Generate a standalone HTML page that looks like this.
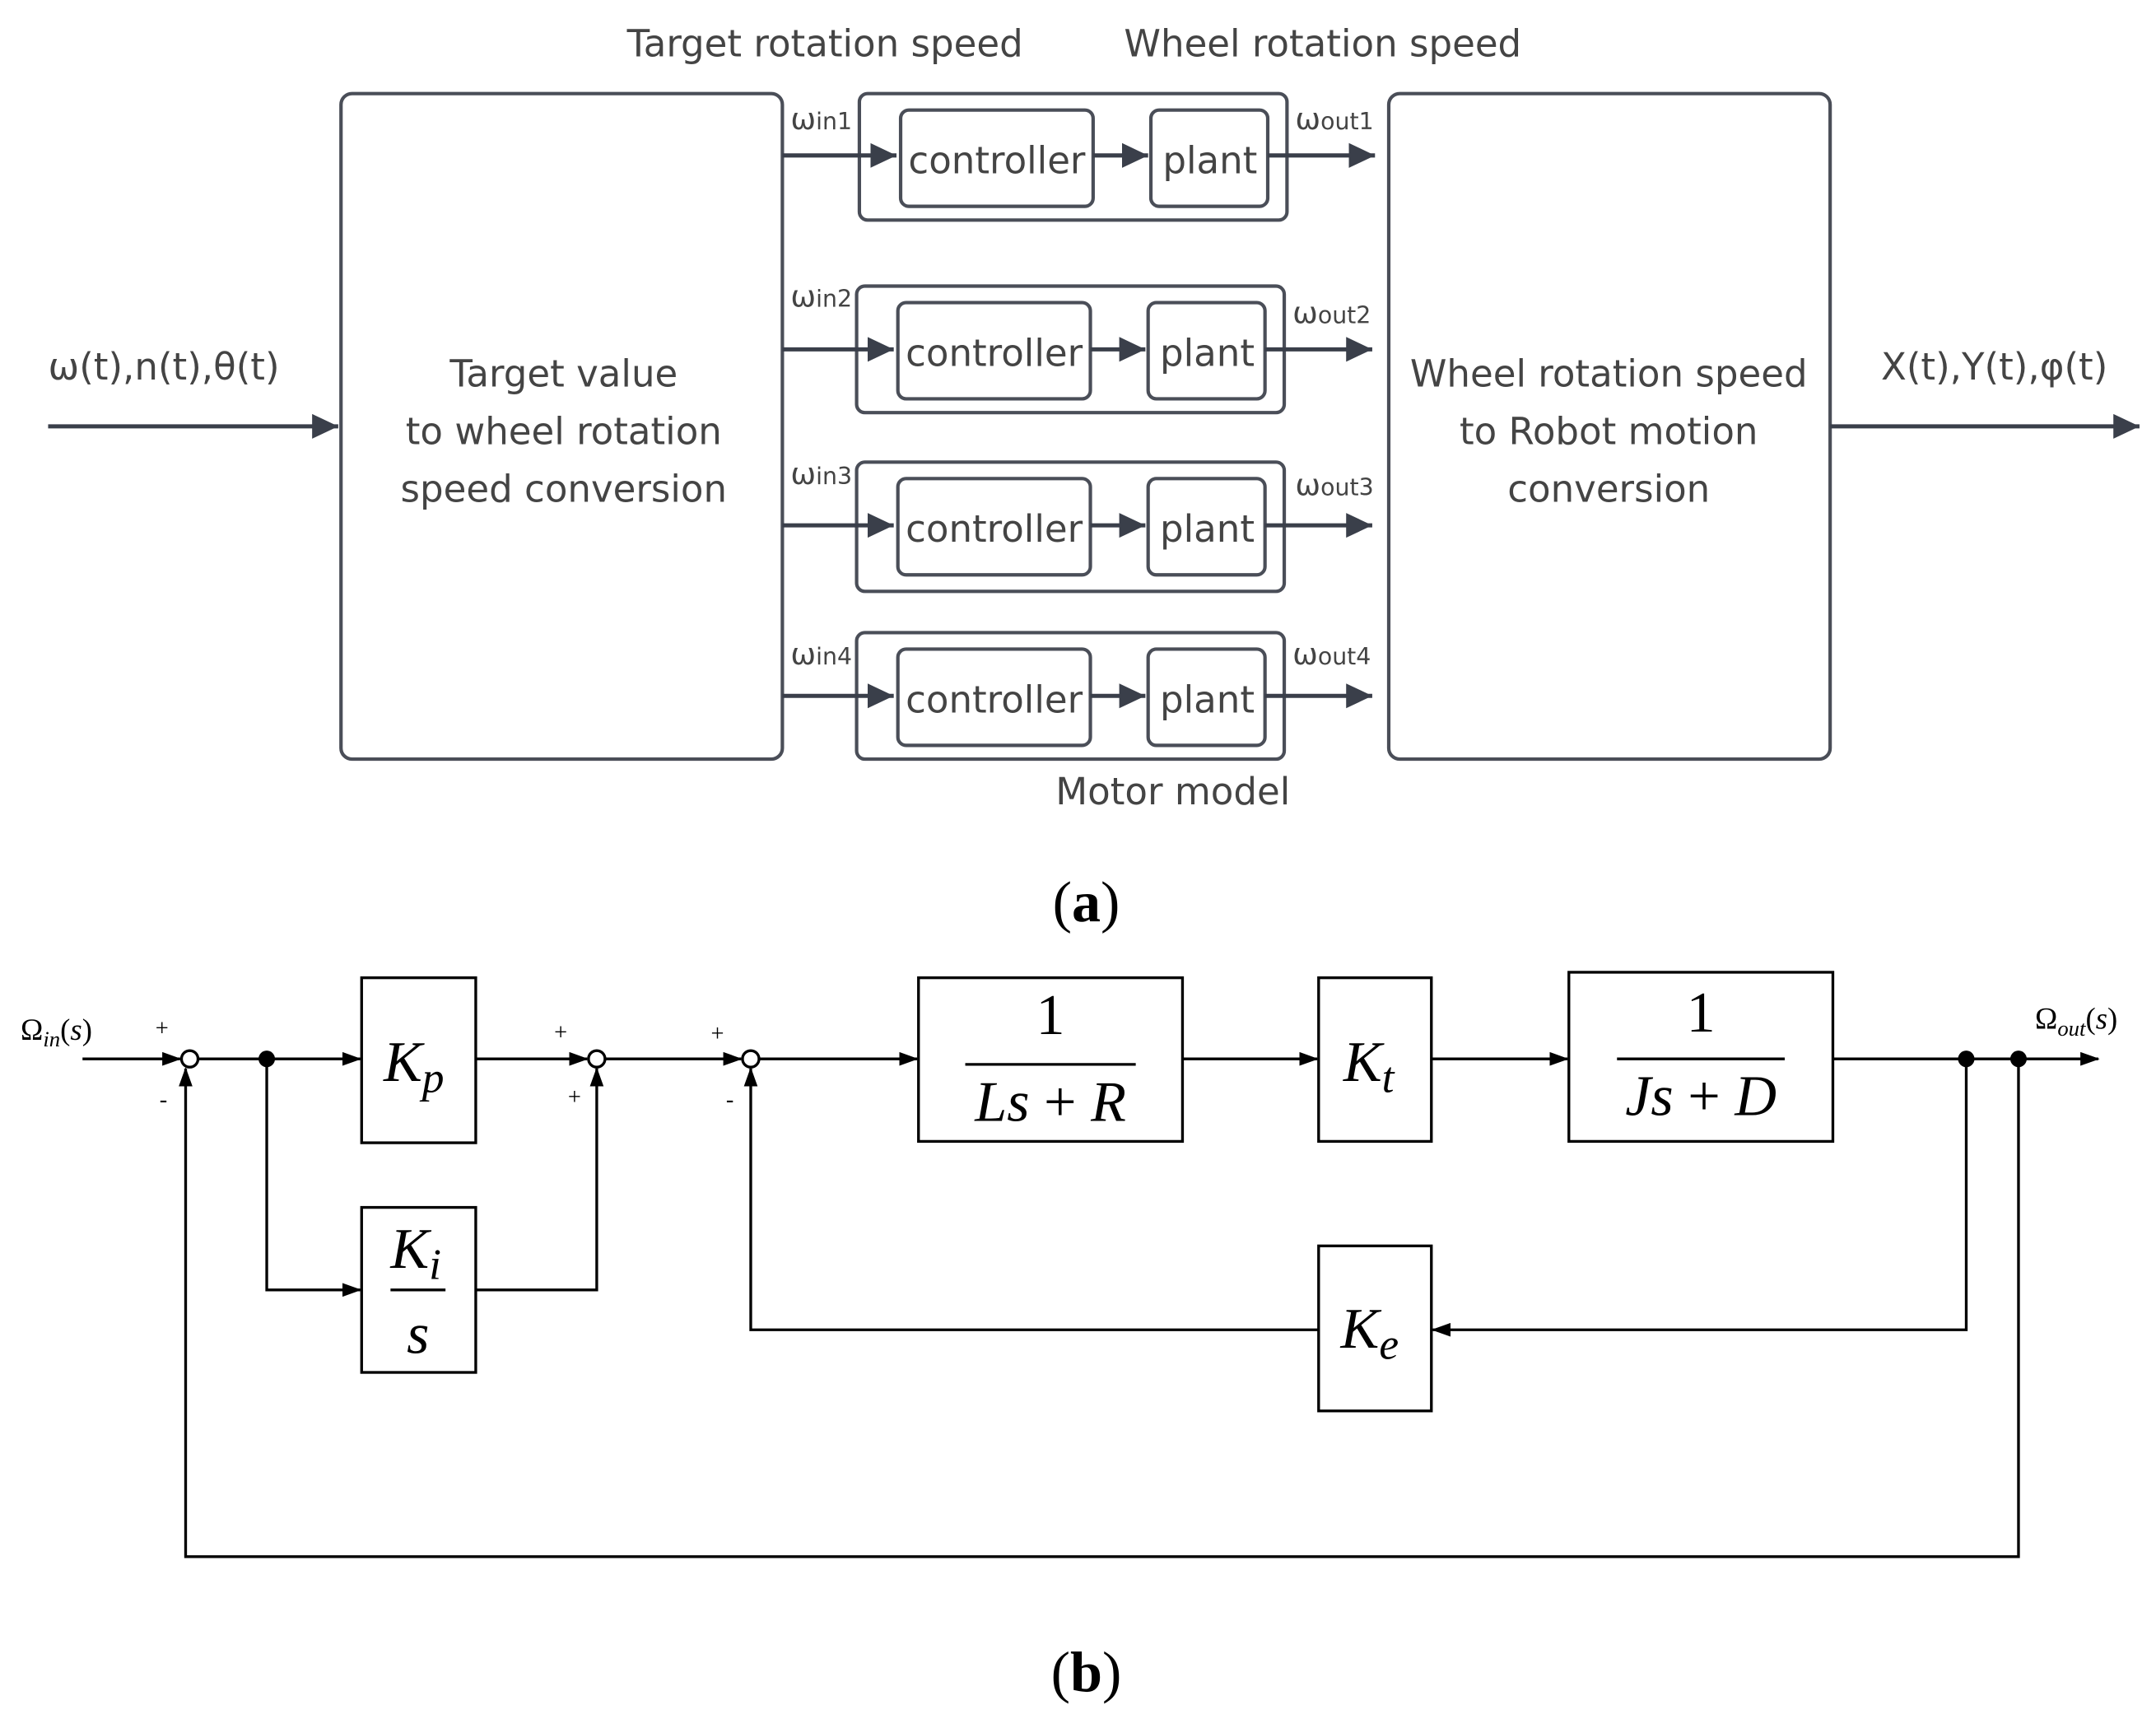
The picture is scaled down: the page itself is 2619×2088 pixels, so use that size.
<!DOCTYPE html>
<html><head><meta charset="utf-8"><style>
html,body{margin:0;padding:0;background:#fff;}
svg{display:block;}
.s{font-family:"DejaVu Sans","Liberation Sans",sans-serif;fill:#444;}
.m{font-family:"Liberation Serif",serif;font-style:italic;fill:#000;}
</style></head><body>
<svg width="2619" height="2088" viewBox="0 0 1568 1250" xmlns="http://www.w3.org/2000/svg">
<defs>
<marker id="ab" markerWidth="14" markerHeight="10" refX="13" refY="5" orient="auto" markerUnits="userSpaceOnUse"><path d="M0,0 L14,5 L0,10 z" fill="#000"/></marker>
<marker id="ag2" markerWidth="20" markerHeight="20" refX="19" refY="10" orient="auto" markerUnits="userSpaceOnUse"><path d="M0,1 L19,10 L0,19 z" fill="#3a3f4a"/></marker>
</defs>
<g fill="none" stroke="#4a4e58" stroke-width="2.5">
<rect x="248" y="68" width="321" height="484" rx="8"/>
<rect x="1010" y="68" width="321" height="484" rx="8"/>
<rect x="625" y="68" width="311" height="92" rx="6"/>
<rect x="655" y="80" width="140" height="70" rx="6"/>
<rect x="837" y="80" width="85" height="70" rx="6"/>
<rect x="623" y="208" width="311" height="92" rx="6"/>
<rect x="653" y="220" width="140" height="70" rx="6"/>
<rect x="835" y="220" width="85" height="70" rx="6"/>
<rect x="623" y="336" width="311" height="94" rx="6"/>
<rect x="653" y="348" width="140" height="70" rx="6"/>
<rect x="835" y="348" width="85" height="70" rx="6"/>
<rect x="623" y="460" width="311" height="92" rx="6"/>
<rect x="653" y="472" width="140" height="70" rx="6"/>
<rect x="835" y="472" width="85" height="70" rx="6"/>
</g>
<g stroke="#3a3f4a" stroke-width="3" fill="none">
<line x1="569" y1="113" x2="652" y2="113" marker-end="url(#ag2)"/>
<line x1="795" y1="113" x2="835" y2="113" marker-end="url(#ag2)"/>
<line x1="922" y1="113" x2="1000" y2="113" marker-end="url(#ag2)"/>
<line x1="569" y1="254" x2="650" y2="254" marker-end="url(#ag2)"/>
<line x1="793" y1="254" x2="833" y2="254" marker-end="url(#ag2)"/>
<line x1="920" y1="254" x2="998" y2="254" marker-end="url(#ag2)"/>
<line x1="569" y1="382" x2="650" y2="382" marker-end="url(#ag2)"/>
<line x1="793" y1="382" x2="833" y2="382" marker-end="url(#ag2)"/>
<line x1="920" y1="382" x2="998" y2="382" marker-end="url(#ag2)"/>
<line x1="569" y1="506" x2="650" y2="506" marker-end="url(#ag2)"/>
<line x1="793" y1="506" x2="833" y2="506" marker-end="url(#ag2)"/>
<line x1="920" y1="506" x2="998" y2="506" marker-end="url(#ag2)"/>
<line x1="35" y1="310" x2="246" y2="310" marker-end="url(#ag2)"/>
<line x1="1331" y1="310" x2="1556" y2="310" marker-end="url(#ag2)"/>
</g>
<g class="s" font-size="27">
<text x="600" y="41" text-anchor="middle">Target rotation speed</text>
<text x="962" y="41" text-anchor="middle">Wheel rotation speed</text>
<text x="853" y="585" text-anchor="middle">Motor model</text>
<text x="35" y="276">ω(t),n(t),θ(t)</text>
<text x="1368" y="276">X(t),Y(t),φ(t)</text>
<text x="410" y="281" text-anchor="middle">Target value</text>
<text x="410" y="323" text-anchor="middle">to wheel rotation</text>
<text x="410" y="365" text-anchor="middle">speed conversion</text>
<text x="1170" y="281" text-anchor="middle">Wheel rotation speed</text>
<text x="1170" y="323" text-anchor="middle">to Robot motion</text>
<text x="1170" y="365" text-anchor="middle">conversion</text>
<text x="725" y="126" text-anchor="middle">controller</text>
<text x="880" y="126" text-anchor="middle">plant</text>
<text x="723" y="266" text-anchor="middle">controller</text>
<text x="878" y="266" text-anchor="middle">plant</text>
<text x="723" y="394" text-anchor="middle">controller</text>
<text x="878" y="394" text-anchor="middle">plant</text>
<text x="723" y="518" text-anchor="middle">controller</text>
<text x="878" y="518" text-anchor="middle">plant</text>
</g>
<g class="s" font-size="22">
<text x="575" y="94">ω<tspan font-size="17">in1</tspan></text><text x="942" y="94">ω<tspan font-size="17">out1</tspan></text>
<text x="575" y="223">ω<tspan font-size="17">in2</tspan></text><text x="940" y="235">ω<tspan font-size="17">out2</tspan></text>
<text x="575" y="352">ω<tspan font-size="17">in3</tspan></text><text x="942" y="360">ω<tspan font-size="17">out3</tspan></text>
<text x="575" y="483">ω<tspan font-size="17">in4</tspan></text><text x="940" y="483">ω<tspan font-size="17">out4</tspan></text>
</g>
<text x="790" y="670" text-anchor="middle" font-family="Liberation Serif,serif" font-size="42">(<tspan font-weight="bold">a</tspan>)</text>
<text x="790" y="1230" text-anchor="middle" font-family="Liberation Serif,serif" font-size="42">(<tspan font-weight="bold">b</tspan>)</text>
<g fill="none" stroke="#000" stroke-width="2">
<rect x="263" y="711" width="83" height="120"/>
<rect x="263" y="878" width="83" height="120"/>
<rect x="668" y="711" width="192" height="119"/>
<rect x="959" y="711" width="82" height="119"/>
<rect x="1141" y="707" width="192" height="123"/>
<rect x="959" y="906" width="82" height="120"/>
<circle cx="138" cy="770" r="6"/>
<circle cx="434" cy="770" r="6"/>
<circle cx="546" cy="770" r="6"/>
<line x1="60" y1="770" x2="131" y2="770" marker-end="url(#ab)"/>
<line x1="144" y1="770" x2="262" y2="770" marker-end="url(#ab)"/>
<line x1="346" y1="770" x2="427" y2="770" marker-end="url(#ab)"/>
<polyline points="194,770 194,938 262,938" marker-end="url(#ab)"/>
<polyline points="346,938 434,938 434,777" marker-end="url(#ab)"/>
<line x1="440" y1="770" x2="539" y2="770" marker-end="url(#ab)"/>
<line x1="552" y1="770" x2="667" y2="770" marker-end="url(#ab)"/>
<line x1="860" y1="770" x2="958" y2="770" marker-end="url(#ab)"/>
<line x1="1041" y1="770" x2="1140" y2="770" marker-end="url(#ab)"/>
<line x1="1333" y1="770" x2="1526" y2="770" marker-end="url(#ab)"/>
<polyline points="1430,770 1430,967 1042,967" marker-end="url(#ab)"/>
<polyline points="959,967 546,967 546,777" marker-end="url(#ab)"/>
<polyline points="1468,770 1468,1132 135,1132 135,777" marker-end="url(#ab)"/>
<line x1="702" y1="774" x2="826" y2="774"/>
<line x1="1176" y1="770" x2="1298" y2="770"/>
<line x1="284" y1="938" x2="324" y2="938"/>
</g>
<g fill="#000"><circle cx="194" cy="770" r="6"/><circle cx="1430" cy="770" r="6"/><circle cx="1468" cy="770" r="6"/></g>
<g font-family="Liberation Serif,serif" font-size="17" fill="#000">
<text x="113" y="753">+</text><text x="116" y="805">-</text>
<text x="403" y="756">+</text><text x="413" y="803">+</text>
<text x="517" y="757">+</text><text x="528" y="805">-</text>
</g>
<g class="m" font-size="22">
<text x="15" y="756"><tspan font-style="normal">Ω</tspan><tspan font-size="16" dy="5">in</tspan><tspan dy="-5" font-style="normal">(</tspan>s<tspan font-style="normal">)</tspan></text>
<text x="1480" y="748"><tspan font-style="normal">Ω</tspan><tspan font-size="16" dy="5">out</tspan><tspan dy="-5" font-style="normal">(</tspan>s<tspan font-style="normal">)</tspan></text>
</g>
<g class="m" font-size="42">
<text x="279" y="786">K<tspan font-size="32" dy="8">p</tspan></text>
<text x="284" y="922">K<tspan font-size="32" dy="8">i</tspan></text>
<text x="304" y="984" text-anchor="middle">s</text>
<text x="764" y="752" text-anchor="middle" font-style="normal">1</text>
<text x="764" y="815" text-anchor="middle">Ls <tspan font-style="normal">+</tspan> R</text>
<text x="977" y="786">K<tspan font-size="32" dy="8">t</tspan></text>
<text x="1237" y="750" text-anchor="middle" font-style="normal">1</text>
<text x="1237" y="811" text-anchor="middle">Js <tspan font-style="normal">+</tspan> D</text>
<text x="975" y="980">K<tspan font-size="32" dy="8">e</tspan></text>
</g>
</svg>
</body></html>
